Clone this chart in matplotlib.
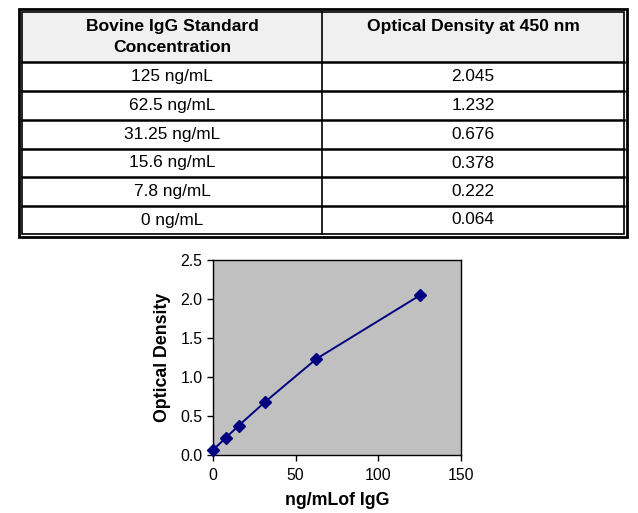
import matplotlib
matplotlib.use("Agg")
import matplotlib.pyplot as plt
from matplotlib.patches import Rectangle

plt.rcParams['font.family'] = ['Liberation Sans', 'DejaVu Sans']

# data
conc_labels = ["125 ng/mL", "62.5 ng/mL", "31.25 ng/mL", "15.6 ng/mL", "7.8 ng/mL", "0 ng/mL"]
od_labels = ["2.045", "1.232", "0.676", "0.378", "0.222", "0.064"]
conc = [125, 62.5, 31.25, 15.6, 7.8, 0]
od = [2.045, 1.232, 0.676, 0.378, 0.222, 0.064]
headers = ["Bovine IgG Standard\nConcentration", "Optical Density at 450 nm"]

W, H = 638, 513
fig = plt.figure(figsize=(W / 100, H / 100), dpi=100)

# table drawn in pixel coordinates
tab = fig.add_axes([0, 0, 1, 1])
tab.set_xlim(0, W)
tab.set_ylim(H, 0)
tab.axis('off')

x0, x1, xmid = 22, 624, 322
y_head = 12
row_lines = [62, 91, 120, 149, 177, 206, 234]
tab.add_patch(Rectangle((x0, y_head), x1 - x0, row_lines[0] - y_head,
                        facecolor='#f0f0f0', edgecolor='none'))
# double outer border
tab.add_patch(Rectangle((19, 9), 608, 228, fill=False, edgecolor='black', lw=2))
tab.add_patch(Rectangle((x0, y_head), x1 - x0, row_lines[-1] - y_head,
                        fill=False, edgecolor='black', lw=1.2))
for y in row_lines[:-1]:
    tab.plot([x0, x1], [y, y], color='black', lw=1.8)
tab.plot([xmid, xmid], [y_head, row_lines[-1]], color='black', lw=1.2)

tab.text((x0 + xmid) / 2, 37, headers[0], ha='center', va='center',
         fontsize=12.6, fontweight='bold', linespacing=1.55)
tab.text((xmid + x1) / 2, 27, headers[1], ha='center', va='center',
         fontsize=12.6, fontweight='bold')
for i in range(len(conc_labels)):
    yc = (row_lines[i] + row_lines[i + 1]) / 2
    tab.text((x0 + xmid) / 2, yc, conc_labels[i], ha='center', va='center', fontsize=12.4)
    tab.text((xmid + x1) / 2, yc, od_labels[i], ha='center', va='center', fontsize=12.4)

# standard curve
ax = fig.add_axes([213 / W, 1 - 455 / H, 248 / W, 195 / H])
ax.set_facecolor('#c0c0c0')
ax.plot(conc, od, color='#000080', lw=1.4, marker='D', markersize=6.5, clip_on=False, zorder=3)
ax.set_xlim(0, 150)
ax.set_ylim(0, 2.5)
ax.set_xticks([0, 50, 100, 150])
ax.set_yticks([0, 0.5, 1.0, 1.5, 2.0, 2.5])
ax.set_yticklabels(["0.0", "0.5", "1.0", "1.5", "2.0", "2.5"])
ax.tick_params(direction='out', length=4, width=1, labelsize=11.4, color='black')
ax.tick_params(axis='x', pad=5)
for s in ax.spines.values():
    s.set_color('black')
    s.set_linewidth(1)
ax.set_xlabel("ng/mLof IgG", fontsize=12.8, fontweight='bold', labelpad=7)
ax.set_ylabel("Optical Density", fontsize=12.8, fontweight='bold', labelpad=7)

fig.savefig("out.png", dpi=100)
